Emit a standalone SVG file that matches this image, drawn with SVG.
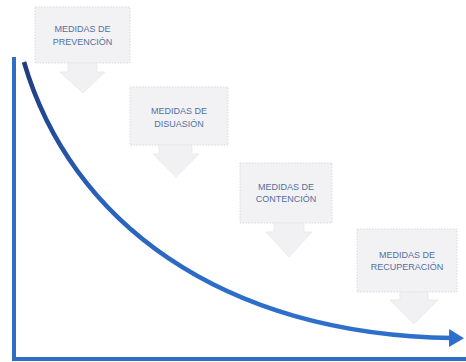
<svg xmlns="http://www.w3.org/2000/svg" width="466" height="362" viewBox="0 0 466 362">
<defs>
<style>
.box{fill:#f2f2f4;stroke:#dadadf;stroke-width:1;stroke-dasharray:1.5 1.5}
.arr{fill:#f1f1f3;stroke:#e8e8ec;stroke-width:0.8}
.lbl{font-family:"Liberation Sans",Arial,sans-serif;font-size:9px;fill:#52709f;text-anchor:middle}
.axis{fill:none;stroke:#2f6ec6;stroke-width:4}
</style>
<linearGradient id="curveGrad" gradientUnits="userSpaceOnUse" x1="24" y1="62" x2="260" y2="300">
<stop offset="0" stop-color="#1f3c7c"/>
<stop offset="0.45" stop-color="#2a62bd"/>
<stop offset="1" stop-color="#2e6fcb"/>
</linearGradient>
<marker id="head" markerUnits="userSpaceOnUse" markerWidth="16" markerHeight="22" refX="4" refY="11" orient="auto">
<path d="M0,2 L15,11 L0,20 Z" fill="#2e6fcb"/>
</marker>
</defs>
<rect width="466" height="362" fill="#ffffff"/>
<g id="node-prevencion">
<rect class="box" x="35" y="7" width="95" height="56"/>
<path class="arr" d="M68,63 H97 V72 H105 L83,93 L60,72 H68 Z"/>
<text class="lbl" x="82.5" y="32">MEDIDAS DE</text>
<text class="lbl" x="82.5" y="45">PREVENCIÓN</text>
</g>
<g id="node-disuasion">
<rect class="box" x="130" y="87" width="98" height="58"/>
<path class="arr" d="M159,145 H192 V154 H199 L176,177 L153,154 H159 Z"/>
<text class="lbl" x="179" y="114">MEDIDAS DE</text>
<text class="lbl" x="179" y="127">DISUASIÓN</text>
</g>
<g id="node-contencion">
<rect class="box" x="240" y="163" width="92" height="60"/>
<path class="arr" d="M274,223 H304 V232 H312 L289,257 L266,232 H274 Z"/>
<text class="lbl" x="286" y="190">MEDIDAS DE</text>
<text class="lbl" x="286" y="202">CONTENCIÓN</text>
</g>
<g id="node-recuperacion">
<rect class="box" x="357" y="229" width="100" height="63"/>
<path class="arr" d="M400,292 H428 V300 H438 L414,324 L390,300 H400 Z"/>
<text class="lbl" x="407" y="258">MEDIDAS DE</text>
<text class="lbl" x="407" y="270">RECUPERACIÓN</text>
</g>
<g id="connectors">
<path class="axis" d="M14,57 V359 H466"/>
<path d="M24,62 C70,220 220,335 453,338" fill="none" stroke="url(#curveGrad)" stroke-width="4.5" marker-end="url(#head)"/>
</g>
</svg>
